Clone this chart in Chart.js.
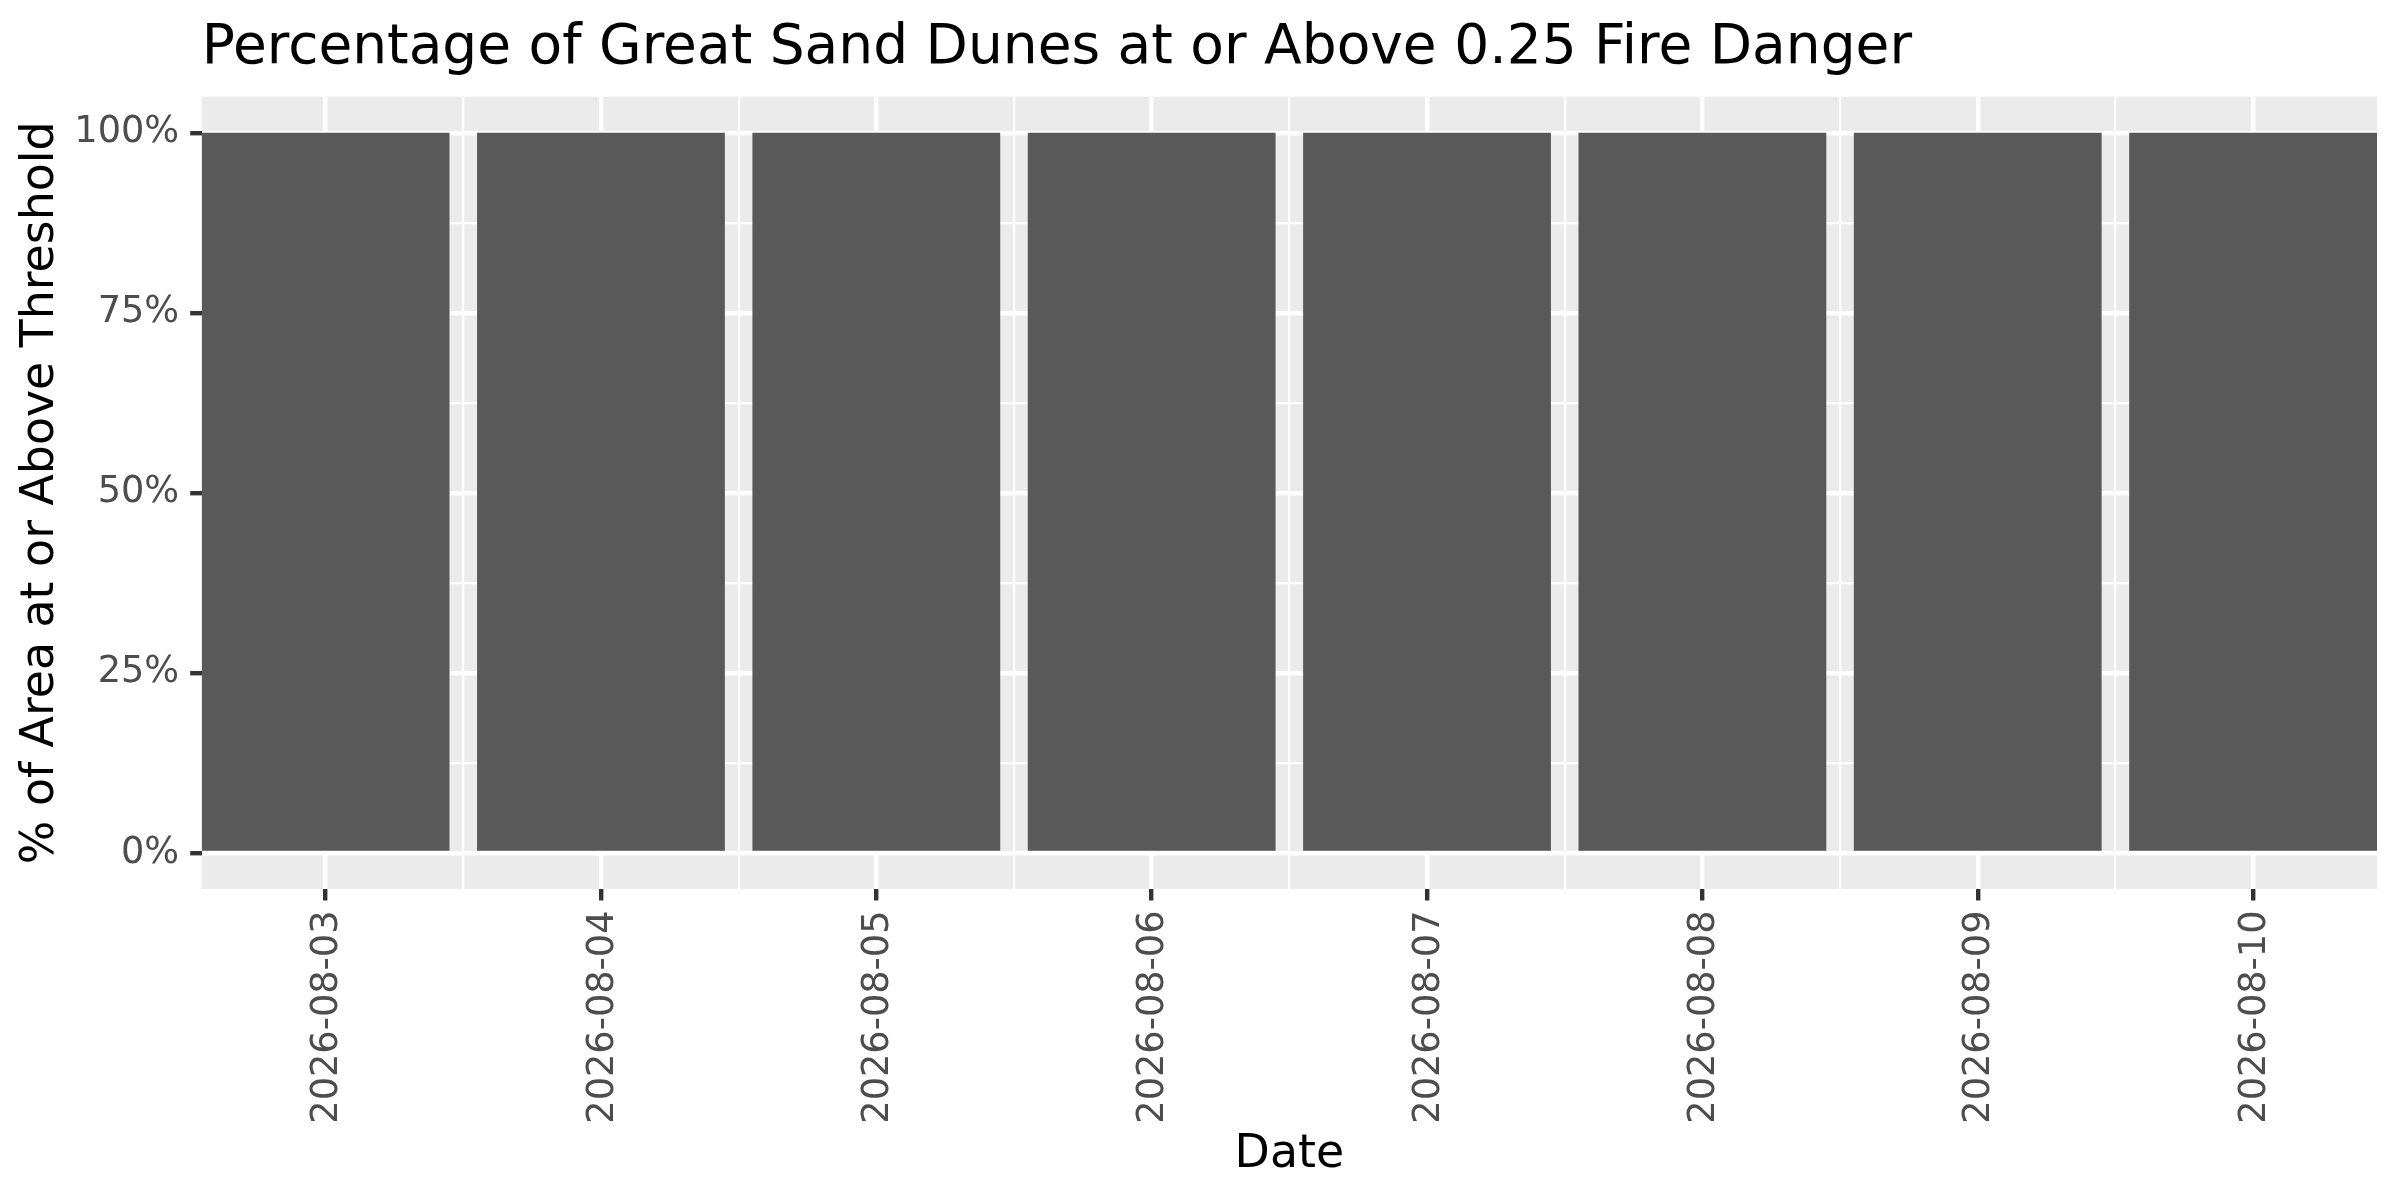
<!DOCTYPE html>
<html>
<head>
<meta charset="utf-8">
<script src="https://cdn.jsdelivr.net/npm/chart.js@4.4.1/dist/chart.umd.min.js"></script>
<style>
  body { margin: 0; background: #ffffff; }
  canvas { display: block; }
</style>
</head>
<body>
<canvas id="fireChart" width="2400" height="1200" style="width:2400px;height:1200px"></canvas>
<script>
const chartTitle = "Percentage of Great Sand Dunes at or Above 0.25 Fire Danger";
const xTitle = "Date";
const yTitle = "% of Area at or Above Threshold";

// one bar per forecast day
const dates = ["2026-08-03", "2026-08-04", "2026-08-05", "2026-08-06",
               "2026-08-07", "2026-08-08", "2026-08-09", "2026-08-10"];
const pctAbove = [100, 100, 100, 100, 100, 100, 100, 100];

const yTicks = [0, 25, 50, 75, 100];
const yMinorTicks = [12.5, 37.5, 62.5, 87.5];

const FONT = "'DejaVu Sans', 'Liberation Sans', sans-serif";
const ctx = document.getElementById("fireChart").getContext("2d");

// grey panel behind the grid, ggplot style
const panelBg = {
  id: "panelBg",
  beforeDraw(chart) {
    const a = chart.chartArea;
    const c = chart.ctx;
    c.save();
    c.fillStyle = "#ffffff";
    c.fillRect(0, 0, chart.width, chart.height);
    c.fillStyle = "#ebebeb";
    c.fillRect(a.left, a.top, a.right - a.left, a.bottom - a.top);
    c.restore();
  }
};

// title sits on the panel's left edge, not the canvas edge
const panelTitle = {
  id: "panelTitle",
  afterDraw(chart) {
    const c = chart.ctx;
    c.save();
    c.font = "55px " + FONT;
    c.fillStyle = "#000000";
    c.textAlign = "left";
    c.textBaseline = "alphabetic";
    c.fillText(chartTitle, chart.chartArea.left, 63.3);
    c.restore();
  }
};

const isMajorY = v => yTicks.includes(v);
const xMin = 0.55;
const xMax = dates.length + 0.45;

const fireChart = new Chart(ctx, {
  type: "bar",
  data: {
    datasets: [{
      label: "pct",
      data: dates.map((d, i) => ({ x: i + 1, y: pctAbove[i] })),
      backgroundColor: "#595959",
      borderWidth: 0,
      barPercentage: 0.9,
      categoryPercentage: 1.0,
      xAxisID: "x",
      yAxisID: "y"
    }]
  },
  options: {
    responsive: false,
    devicePixelRatio: 1,
    animation: false,
    layout: { padding: { top: 96.7, right: 23, bottom: 0, left: 0 } },
    plugins: {
      legend: { display: false },
      title: { display: false },
      tooltip: { enabled: false }
    },
    scales: {
      x: {
        type: "linear",
        min: xMin,
        max: xMax,
        offset: false,
        weight: 0,
        afterBuildTicks: scale => {
          scale.ticks = dates.map((d, i) => ({ value: i + 1 }));
        },
        afterFit: scale => {
          scale.height = 311;
          scale.paddingLeft = 0;
          scale.paddingRight = 0;
        },
        border: { display: false },
        grid: {
          offset: false,
          color: "#ffffff",
          lineWidth: 4.4,
          drawTicks: true,
          tickLength: 11.5,
          tickWidth: 4.4,
          tickColor: "#333333"
        },
        ticks: {
          autoSkip: false,
          minRotation: 90,
          maxRotation: 90,
          padding: 10,
          labelOffset: 2,
          color: "#4d4d4d",
          font: { family: FONT, size: 36.7 },
          callback: v => dates[Math.round(v) - 1]
        },
        title: {
          display: true,
          text: xTitle,
          color: "#000000",
          font: { family: FONT, size: 45.8 },
          padding: { top: 0, bottom: 17.5 }
        }
      },
      // minor grid between days, no labels
      xMinor: {
        type: "linear",
        position: "bottom",
        min: xMin,
        max: xMax,
        offset: false,
        weight: 1,
        afterBuildTicks: scale => {
          scale.ticks = dates.slice(1).map((d, i) => ({ value: i + 1.5 }));
        },
        afterFit: scale => {
          scale.height = 0;
          scale.paddingLeft = 0;
          scale.paddingRight = 0;
        },
        border: { display: false },
        grid: {
          offset: false,
          color: "#ffffff",
          lineWidth: 2.2,
          drawTicks: false
        },
        ticks: { display: false }
      },
      y: {
        min: -5,
        max: 105,
        afterBuildTicks: scale => {
          scale.ticks = yTicks.concat(yMinorTicks).sort((a, b) => a - b).map(v => ({ value: v }));
        },
        afterFit: scale => {
          scale.width = 201.7;
        },
        border: { display: false },
        grid: {
          color: "#ffffff",
          lineWidth: c => (c.tick && isMajorY(c.tick.value)) ? 4.4 : 2.2,
          drawTicks: true,
          tickLength: 11.5,
          tickWidth: 4.4,
          tickColor: c => (c.tick && isMajorY(c.tick.value)) ? "#333333" : "rgba(0,0,0,0)"
        },
        ticks: {
          autoSkip: false,
          padding: 11,
          color: "#4d4d4d",
          font: { family: FONT, size: 36.7 },
          callback: v => isMajorY(v) ? v + "%" : ""
        },
        title: {
          display: true,
          text: yTitle,
          color: "#000000",
          font: { family: FONT, size: 45.8 },
          padding: { top: 13.5, bottom: 0 }
        }
      }
    }
  },
  plugins: [panelBg, panelTitle]
});
</script>
</body>
</html>
